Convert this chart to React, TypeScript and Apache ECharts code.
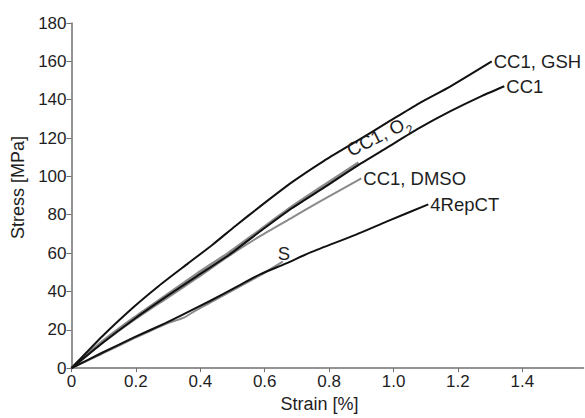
import React, { useEffect, useRef } from 'react';
import * as echarts from 'echarts';

const FONT = '"Liberation Sans", Arial, sans-serif';

const xTicks = [0, 0.2, 0.4, 0.6, 0.8, 1.0, 1.2, 1.4];

const strainGSH = [0, 0.095, 0.194, 0.272, 0.361, 0.439, 0.508, 0.587, 0.685, 0.783, 0.882, 0.98, 1.078, 1.177, 1.305];
const stressGSH = [0, 16.5, 32, 43, 54.5, 64.5, 74, 84.5, 97, 108, 118, 128, 138, 147, 160];

const strainCC1 = [0, 0.095, 0.194, 0.292, 0.39, 0.489, 0.587, 0.685, 0.783, 0.882, 0.98, 1.078, 1.177, 1.275, 1.344];
const stressCC1 = [0, 13, 25.5, 37, 48, 59, 71.5, 83.5, 94, 105, 115, 125, 134, 142, 147];

const strainO2 = [0, 0.095, 0.194, 0.292, 0.39, 0.489, 0.587, 0.685, 0.783, 0.892];
const stressO2 = [0, 13.5, 26, 37.5, 49, 60, 72, 84, 95, 107];

const strainDMSO = [0, 0.095, 0.194, 0.292, 0.39, 0.489, 0.587, 0.685, 0.783, 0.9];
const stressDMSO = [0, 13, 25, 36, 47, 58.5, 69, 78.5, 88, 99];

const strain4Rep = [0, 0.095, 0.194, 0.292, 0.341, 0.43, 0.508, 0.587, 0.665, 0.744, 0.882, 0.98, 1.108];
const stress4Rep = [0, 8, 16, 23.5, 27.5, 35, 42, 49, 54.5, 60.5, 69.5, 76.5, 85.4];

const strainS = [0, 0.095, 0.194, 0.292, 0.351, 0.39, 0.489, 0.587, 0.656];
const stressS = [0, 7.5, 15.5, 23, 26.5, 30.5, 39.5, 48.5, 55.5];

const o2LabelAt = [0.957, 120];

const pairs = (xs: number[], ys: number[]) => xs.map((x, i) => [x, ys[i]]);

const TEXT = '#1e1e1e';
const BLACK = '#111111';
const GRAY = '#8a8a8a';
const AXIS = '#707070';

const endLabel = (extra: any = {}) => ({
  show: true,
  formatter: '{a}',
  color: TEXT,
  fontSize: 18.5,
  fontFamily: FONT,
  distance: 2,
  ...extra,
});

export default function App() {
  const ref = useRef<HTMLDivElement>(null);
  useEffect(() => {
    if (!ref.current) return;
    const chart = echarts.init(ref.current, null, { renderer: 'svg' });
    chart.setOption({
      animation: false,
      backgroundColor: '#ffffff',
      grid: { left: 71.5, right: 1.5, top: 23, bottom: 45.5, containLabel: false },
      xAxis: {
        type: 'value',
        min: 0,
        max: 1.59,
        interval: 0.2,
        name: 'Strain [%]',
        nameLocation: 'middle',
        nameGap: 25,
        nameTextStyle: { fontSize: 18, color: TEXT, fontFamily: FONT, padding: [0, 16, 0, 0] },
        axisLine: { lineStyle: { color: AXIS, width: 1.5 } },
        axisTick: { show: true, length: 4, lineStyle: { color: AXIS }, customValues: xTicks },
        axisLabel: {
          fontSize: 17,
          color: TEXT,
          fontFamily: FONT,
          margin: 5,
          customValues: xTicks,
          formatter: (v: number) => (v === 0 ? '0' : v.toFixed(1)),
        },
        splitLine: { show: false },
      },
      yAxis: {
        type: 'value',
        min: 0,
        max: 180,
        interval: 20,
        name: 'Stress [MPa]',
        nameLocation: 'middle',
        nameGap: 37,
        nameTextStyle: { fontSize: 18, color: TEXT, fontFamily: FONT, padding: [0, 0, 0, 16] },
        axisLine: { lineStyle: { color: AXIS, width: 1.5 } },
        axisTick: { show: true, length: 5, lineStyle: { color: AXIS } },
        axisLabel: { fontSize: 17, color: TEXT, fontFamily: FONT, margin: 5 },
        splitLine: { show: false },
      },
      series: [
        {
          name: 'CC1, O2',
          type: 'line',
          data: pairs(strainO2, stressO2),
          showSymbol: false,
          smooth: 0.2,
          lineStyle: { color: GRAY, width: 3.5 },
          z: 2,
          markPoint: {
            symbol: 'circle',
            symbolSize: 1,
            itemStyle: { color: 'rgba(0,0,0,0)' },
            label: {
              show: true,
              position: 'inside',
              rotate: 27,
              formatter: '{a|CC1, O}{b|2}',
              rich: {
                a: { fontSize: 18.5, color: TEXT, fontFamily: FONT, lineHeight: 24, verticalAlign: 'top' },
                b: { fontSize: 12, color: TEXT, fontFamily: FONT, lineHeight: 12, verticalAlign: 'bottom' },
              },
            },
            data: [{ coord: o2LabelAt }],
          },
        },
        {
          name: 'CC1, DMSO',
          type: 'line',
          data: pairs(strainDMSO, stressDMSO),
          showSymbol: false,
          smooth: 0.2,
          lineStyle: { color: GRAY, width: 2 },
          endLabel: endLabel(),
          z: 2,
        },
        {
          name: 'S',
          type: 'line',
          data: pairs(strainS, stressS),
          showSymbol: false,
          smooth: 0.2,
          lineStyle: { color: GRAY, width: 2 },
          endLabel: endLabel({ offset: [-7, -8] }),
          z: 2,
        },
        {
          name: 'CC1, GSH',
          type: 'line',
          data: pairs(strainGSH, stressGSH),
          showSymbol: false,
          smooth: 0.2,
          lineStyle: { color: BLACK, width: 2 },
          endLabel: endLabel(),
          z: 3,
        },
        {
          name: 'CC1',
          type: 'line',
          data: pairs(strainCC1, stressCC1),
          showSymbol: false,
          smooth: 0.2,
          lineStyle: { color: BLACK, width: 2 },
          endLabel: endLabel(),
          z: 3,
        },
        {
          name: '4RepCT',
          type: 'line',
          data: pairs(strain4Rep, stress4Rep),
          showSymbol: false,
          smooth: 0.2,
          lineStyle: { color: BLACK, width: 2 },
          endLabel: endLabel(),
          z: 3,
        },
      ],
    });
    return () => chart.dispose();
  }, []);
  return (
    <div
      ref={ref}
      style={{ position: 'fixed', left: 0, top: 0, width: 585, height: 418, background: '#fff' }}
    />
  );
}
